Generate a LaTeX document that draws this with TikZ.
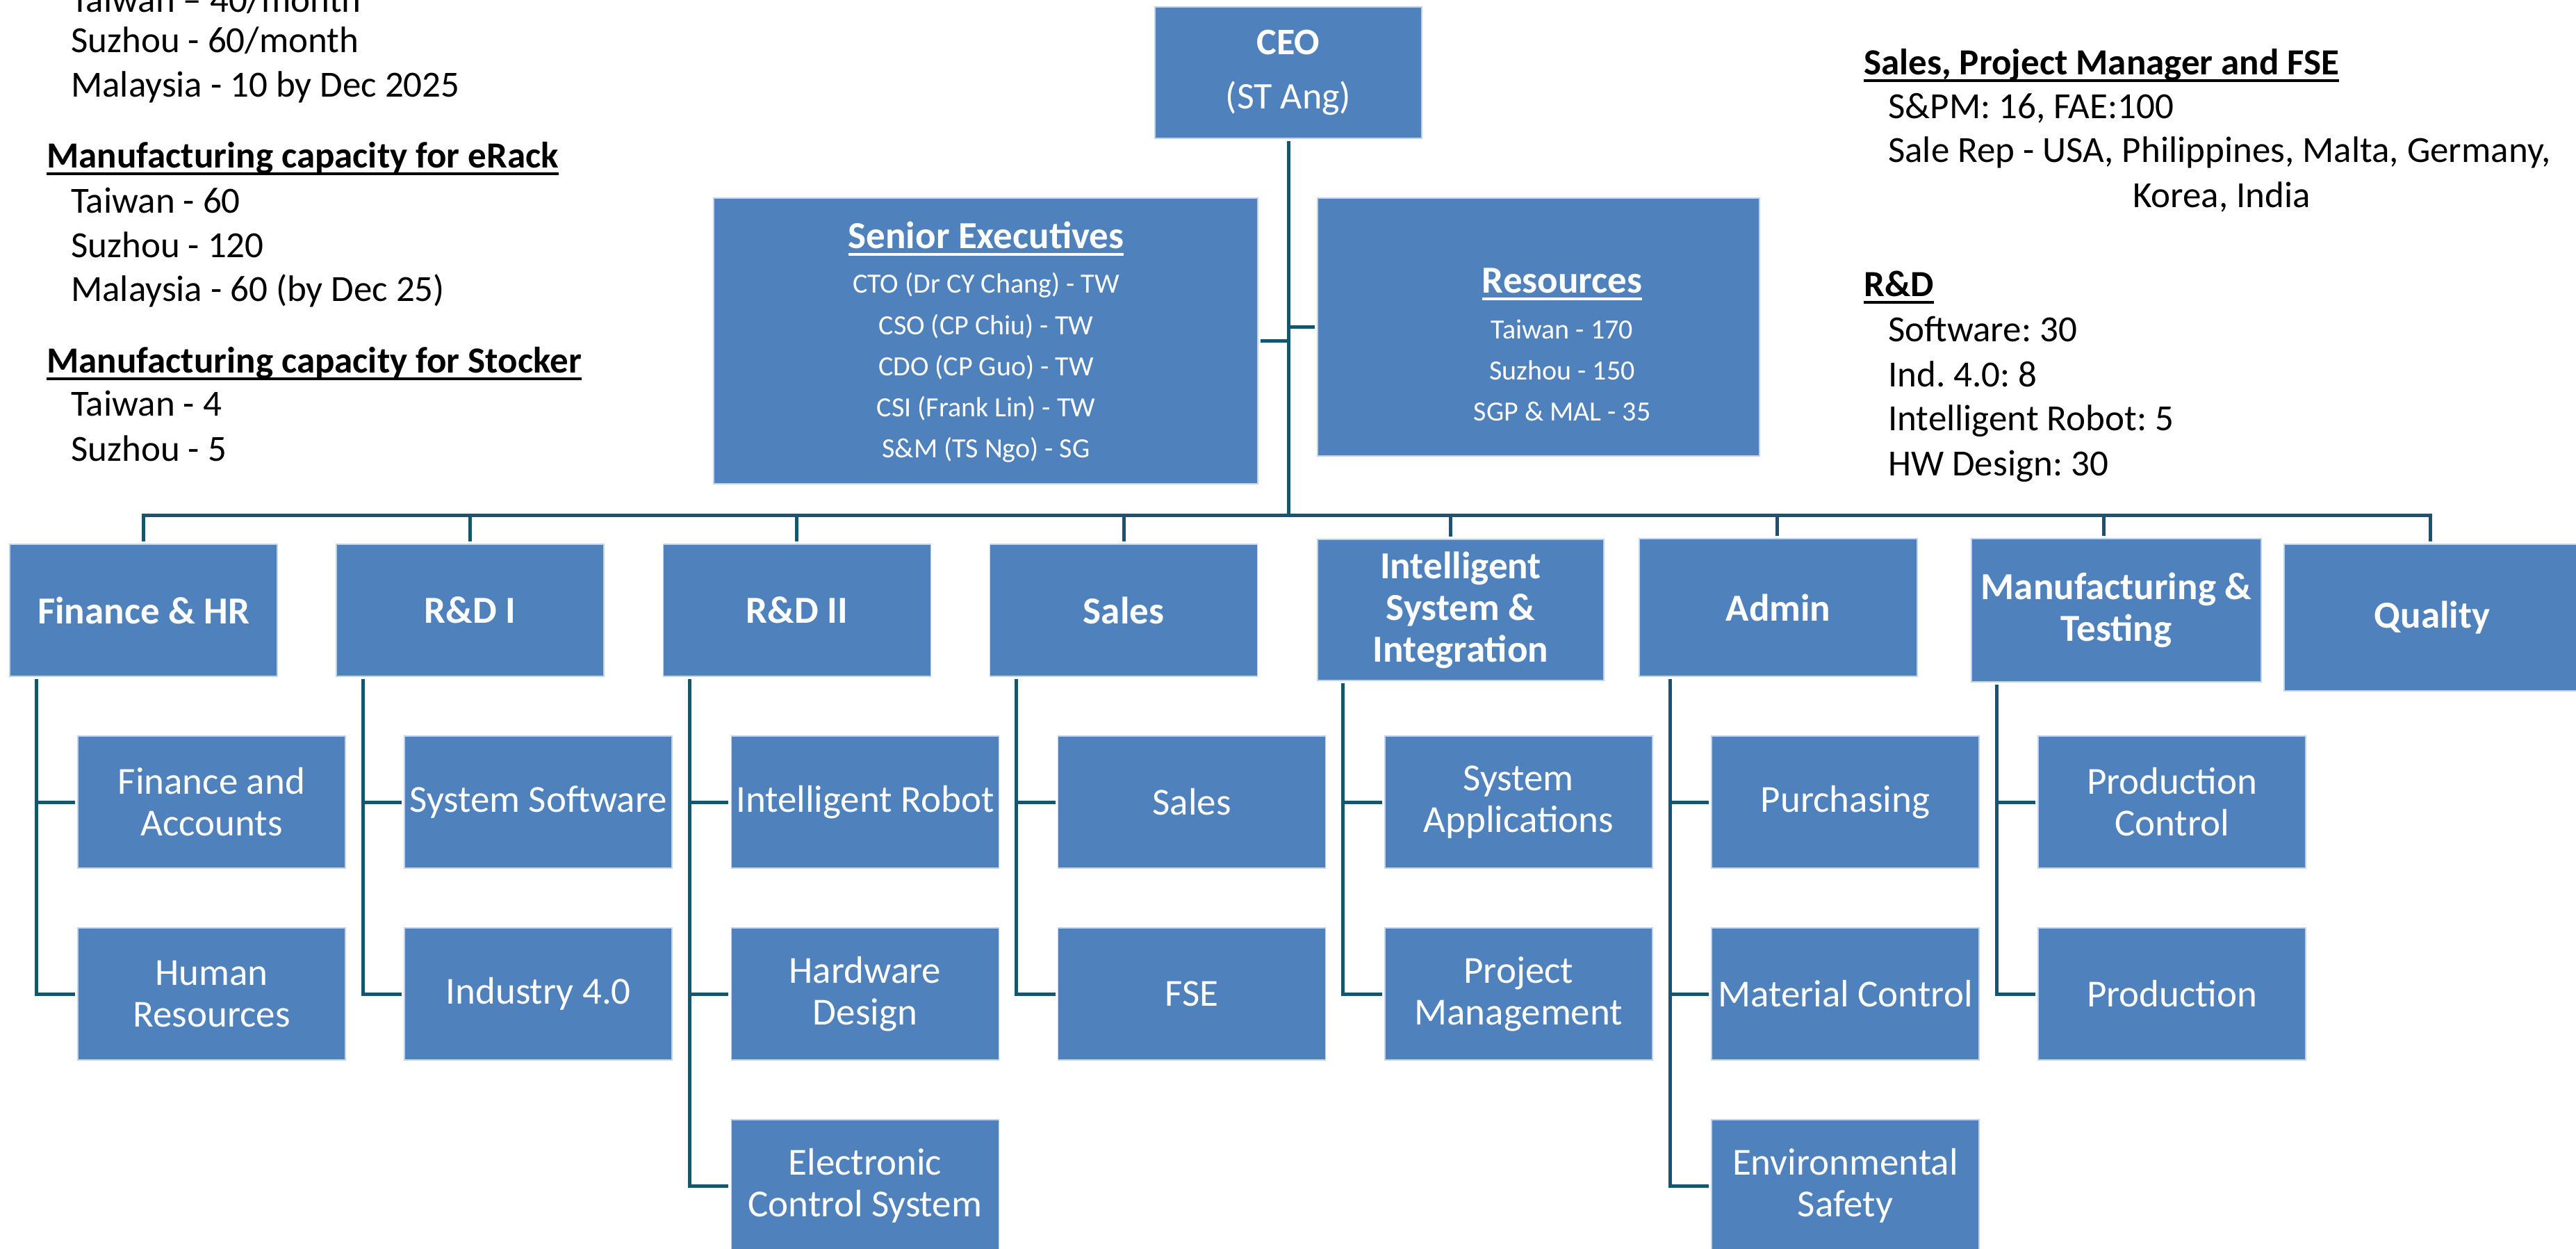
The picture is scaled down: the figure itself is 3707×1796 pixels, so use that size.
\documentclass[tikz,border=0pt]{standalone}
\usepackage{fontspec}
\setmainfont{Carlito}
\usetikzlibrary{positioning, calc}
\frenchspacing

\definecolor{boxblue}{RGB}{79,129,189}
\definecolor{linkteal}{RGB}{23,84,111}

% underlined heading, rule close to the baseline
\newcommand{\ulhead}[1]{\setbox0=\hbox{#1}\rlap{\rule[-11pt]{\wd0}{4pt}}\box0}

\tikzset{
  unit box/.style={draw=white!65!boxblue, line width=1.5pt, fill=boxblue, text=white,
    inner sep=0pt, outer sep=4pt, align=center, font=\fontsize{55}{60}\selectfont},
  top box/.style={unit box, font=\bfseries\fontsize{55}{60}\selectfont,
    minimum width=385pt, minimum height=190pt},
  sub box/.style={unit box, minimum width=385pt, minimum height=190pt},
  link/.style={draw=linkteal, line width=5pt},
  note/.style={anchor=base west, inner sep=0pt, font=\fontsize{53}{64}\selectfont},
  note head/.style={note, font=\bfseries\fontsize{53}{64}\selectfont},
  exec head/.style={anchor=base, inner sep=0pt, text=white, font=\bfseries\fontsize{55}{64}\selectfont},
  exec line/.style={anchor=base, inner sep=0pt, text=white, font=\fontsize{40}{48}\selectfont},
}

\begin{document}
\begin{tikzpicture}[x=1pt, y=-1pt]
\useasboundingbox (0,0) rectangle (3707,1796);
\clip (0,0) rectangle (3707,1796);

% CEO and staff boxes
\node[top box, minimum width=384pt, minimum height=189pt, font=\fontsize{54}{78}\selectfont] (ceo) at (1854,104.5) {{\bfseries CEO}\\(ST Ang)};
\node[unit box, minimum width=783pt, minimum height=411pt] (sen) at (1418.5,490.5) {};
\node[unit box, minimum width=636pt, minimum height=371pt] (res) at (2214,470.5) {};

\node[exec head] (sen-h) at (1419,357) {\ulhead{Senior Executives}};
\node[exec line] (sen-1) at (1419,421) {CTO (Dr CY Chang) - TW};
\node[exec line] (sen-2) at (1419,481) {CSO (CP Chiu) - TW};
\node[exec line] (sen-3) at (1419,540) {CDO (CP Guo) - TW};
\node[exec line] (sen-4) at (1419,599) {CSI (Frank Lin) - TW};
\node[exec line] (sen-5) at (1419,658) {S\&M (TS Ngo) - SG};

\node[exec head] (res-h) at (2248,421) {\ulhead{Resources}};
\node[exec line] (res-1) at (2248,487) {Taiwan - 170};
\node[exec line] (res-2) at (2248,546) {Suzhou - 150};
\node[exec line] (res-3) at (2248,605) {SGP \& MAL - 35};

% departments
\node[top box] (fin) at (206.5,878) {Finance \& HR};
\node[top box] (rd1) at (676.7,878) {R\&D I};
\node[top box] (rd2) at (1146.9,878) {R\&D II};
\node[top box] (sal) at (1617.1,878) {Sales};
\node[top box, minimum width=412pt, minimum height=203pt] (isi) at (2102,877.5) {Intelligent\\System \&\\Integration};
\node[top box, minimum width=400pt, minimum height=198pt] (adm) at (2559,874) {Admin};
\node[top box, minimum width=417pt, minimum height=206pt] (mfg) at (3045.5,878) {Manufacturing \&\\Testing};
\node[top box, minimum width=426pt, minimum height=211pt] (qua) at (3500,888.5) {Quality};

% sections
\node[sub box] (fin-1) at (304.5,1154) {Finance and\\Accounts};
\node[sub box] (fin-2) at (304.5,1430) {Human\\Resources};
\node[sub box] (rd1-1) at (774.7,1154) {System Software};
\node[sub box] (rd1-2) at (774.7,1430) {Industry 4.0};
\node[sub box] (rd2-1) at (1244.9,1154) {Intelligent Robot};
\node[sub box] (rd2-2) at (1244.9,1430) {Hardware\\Design};
\node[sub box] (rd2-3) at (1244.9,1706) {Electronic\\Control System};
\node[sub box] (sal-1) at (1715.1,1154) {Sales};
\node[sub box] (sal-2) at (1715.1,1430) {FSE};
\node[sub box] (isi-1) at (2185.3,1154) {System\\Applications};
\node[sub box] (isi-2) at (2185.3,1430) {Project\\Management};
\node[sub box] (adm-1) at (2655.5,1154) {Purchasing};
\node[sub box] (adm-2) at (2655.5,1430) {Material Control};
\node[sub box] (adm-3) at (2655.5,1706) {Environmental\\Safety};
\node[sub box] (mfg-1) at (3125.7,1154) {Production\\Control};
\node[sub box] (mfg-2) at (3125.7,1430) {Production};

% connectors
\foreach \n [count=\i from 0] in {fin,rd1,rd2,sal,isi,adm,mfg,qua}
  \coordinate (b\n) at (206.5+470.2*\i,741);
\draw[link] (ceo.south) -- (ceo.south |- bfin);
\draw[link] (sen.east) -- (sen.east -| ceo.south);
\draw[link] (res.west -| ceo.south) -- (res.west);
\draw[link] (bfin |- fin.north) -- (bfin) -- (bqua) -- (bqua |- qua.north);
\foreach \n in {rd1,rd2,sal,isi,adm,mfg}
  \draw[link] (b\n) -- (b\n |- \n.north);
\foreach \p/\k in {fin/2, rd1/2, rd2/3, sal/2, isi/2, adm/3, mfg/2} {
  \coordinate (r\p) at ([xshift=-56pt]\p-1.west);
  \draw[link] (r\p |- \p.south) |- (\p-\k.west);
  \foreach \j in {1,...,\k}
    \draw[link] (r\p |- \p-\j.west) -- (\p-\j.west);
}

% capacity notes
\node[note] (cap-1) at (102,17) {Taiwan – 40/month};
\node[note] (cap-2) at (102,75) {Suzhou - 60/month};
\node[note] (cap-3) at (102,139) {Malaysia - 10 by Dec 2025};
\node[note head] (rack-h) at (67,241) {\ulhead{Manufacturing capacity for eRack}};
\node[note] (rack-1) at (102,306) {Taiwan - 60};
\node[note] (rack-2) at (102,370) {Suzhou - 120};
\node[note] (rack-3) at (102,433) {Malaysia - 60 (by Dec 25)};
\node[note head] (stk-h) at (67,536) {\ulhead{Manufacturing capacity for Stocker}};
\node[note] (stk-1) at (102,598) {Taiwan - 4};
\node[note] (stk-2) at (102,663) {Suzhou - 5};

% head count notes
\node[note head] (spm-h) at (2682,107) {\ulhead{Sales, Project Manager and FSE}};
\node[note] (spm-1) at (2717,170) {S\&PM: 16, FAE:100};
\node[note] (spm-2) at (2717,233) {Sale Rep - USA, Philippines, Malta, Germany,};
\node[note, anchor=base] (spm-3) at (3197,298) {Korea, India};
\node[note head] (rnd-h) at (2682,426) {\ulhead{R\&D}};
\node[note] (rnd-1) at (2717,491) {Software: 30};
\node[note] (rnd-2) at (2717,556) {Ind. 4.0: 8};
\node[note] (rnd-3) at (2717,619) {Intelligent Robot: 5};
\node[note] (rnd-4) at (2717,684) {HW Design: 30};
\end{tikzpicture}
\end{document}
